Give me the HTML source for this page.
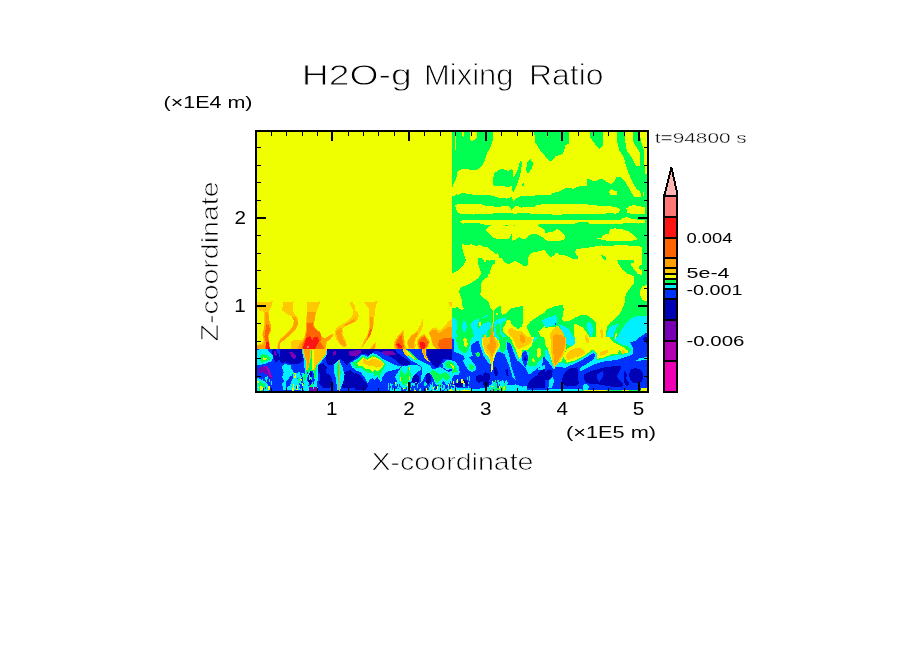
<!DOCTYPE html>
<html lang="en"><head><meta charset="utf-8"><title>H2O-g Mixing Ratio</title>
<style>
html,body{margin:0;padding:0;background:#fff;}
body{width:904px;height:654px;overflow:hidden;}
svg{display:block;will-change:transform;}
.thin{paint-order:fill stroke;stroke:#fff;stroke-width:0.85px;}
.thinb{paint-order:fill stroke;stroke:#fff;stroke-width:0.7px;}
.thin2{paint-order:fill stroke;stroke:#fff;stroke-width:0.35px;}
</style></head><body>
<svg width="904" height="654" viewBox="0 0 904 654">
<defs><clipPath id="pc"><rect x="256" y="131" width="392" height="261"/></clipPath></defs>
<rect width="904" height="654" fill="#fff"/>
<g clip-path="url(#pc)" shape-rendering="crispEdges">
<rect x="256" y="131" width="392" height="261" fill="#f0ff00"/>
<defs><clipPath id="t1"><rect x="452" y="131" width="93" height="71"/></clipPath><clipPath id="t2"><rect x="545" y="131" width="103" height="71"/></clipPath><clipPath id="t3"><rect x="452" y="202" width="93" height="72"/></clipPath><clipPath id="t4"><rect x="545" y="202" width="103" height="72"/></clipPath><clipPath id="t5"><rect x="452" y="274" width="93" height="63"/></clipPath><clipPath id="t6"><rect x="545" y="274" width="103" height="63"/></clipPath><clipPath id="t7"><rect x="452" y="337" width="93" height="55"/></clipPath><clipPath id="t8"><rect x="545" y="337" width="103" height="55"/></clipPath><clipPath id="t9"><rect x="256" y="292" width="99" height="57"/></clipPath><clipPath id="t10"><rect x="355" y="292" width="97" height="57.5"/></clipPath><clipPath id="t11"><rect x="256" y="349" width="99" height="43"/></clipPath><clipPath id="t12"><rect x="355" y="349" width="97" height="43"/></clipPath></defs>
<g clip-path="url(#t1)">
<polygon points="452.2,130.0 493.1,130.0 492.6,141.1 490.4,147.7 487.0,153.2 484.3,162.1 480.4,167.6 477.1,169.6 470.4,169.6 461.6,168.9 457.7,171.5 456.1,178.7 453.8,183.1 452.2,188.1" fill="#00ff50"/>
<polygon points="469.9,130.0 469.9,139.4 471.5,141.1 474.9,140.0 477.1,136.6 477.1,130.0" fill="#f0ff00"/>
<polygon points="461.6,130.0 462.1,136.1 463.8,136.6 464.0,130.0" fill="#f0ff00"/>
<rect x="455.2" y="135.5" width="0.7" height="14.9" fill="#f0ff00"/>
<polygon points="534.0,130.0 535.2,142.2 539.0,148.8 542.3,153.2 545.0,154.9 545.0,130.0" fill="#00ff50"/>
<polygon points="493.1,178.7 494.2,173.7 498.1,170.0 502.5,168.9 508.1,170.9 511.4,169.3 513.0,170.9 513.6,177.6 518.0,168.7 520.2,161.0 521.9,162.1 521.3,169.8 519.1,178.7 515.8,187.5 513.6,191.9 511.9,190.3 511.4,184.2 509.7,187.5 504.7,186.4 497.0,185.9 493.7,186.4 493.1,182.0" fill="#00ff50"/>
<polygon points="530.2,159.0 532.9,162.1 532.4,167.6 529.1,172.6 526.6,173.1 526.3,167.6 527.7,161.5" fill="#00ff50"/>
<polygon points="522.4,183.7 523.8,182.9 524.2,184.8 522.9,186.6 522.0,185.9" fill="#00ff50"/>
<polygon points="452.2,196.4 455.0,195.8 456.1,193.1 457.2,195.3 461.6,193.3 464.9,193.3 472.7,194.7 490.4,195.3 498.1,197.5 506.9,198.6 511.4,196.9 513.6,200.8 515.8,198.6 520.2,196.2 529.1,196.4 536.8,195.3 545.0,194.7 545.0,203.0 452.2,203.0" fill="#00ff50"/>
</g>
<g clip-path="url(#t2)">
<polygon points="545.0,130.0 546.1,130.0 547.4,137.7 548.9,130.0 568.8,130.0 568.8,143.8 565.5,144.9 564.4,149.9 562.7,153.8 558.3,155.4 555.5,156.5 552.2,160.4 549.4,161.0 545.0,156.0" fill="#00ff50"/>
<polygon points="589.8,130.0 603.1,130.0 603.1,145.5 599.2,149.0 597.0,146.6 593.7,142.2 590.4,137.7" fill="#00ff50"/>
<polygon points="545.0,203.0 545.0,195.3 550.5,194.7 552.7,193.1 559.4,191.4 566.0,188.1 573.8,188.6 580.4,185.9 586.5,186.4 587.0,179.2 589.2,179.2 592.6,180.9 595.9,181.1 599.2,179.2 602.5,179.2 606.9,182.0 611.4,184.0 614.1,182.0 616.9,176.5 620.2,176.7 624.6,180.9 628.0,186.4 631.3,193.1 634.6,196.9 640.7,196.9 640.4,190.8 636.8,189.7 632.4,182.0 629.1,174.2 625.8,165.4 623.5,156.5 619.1,149.9 617.5,143.3 616.9,130.0 640.1,130.0 640.7,141.1 643.5,148.8 644.3,163.2 645.0,174.2 649.0,174.2 649.0,203.0" fill="#00ff50"/>
<polygon points="625.2,130.0 625.2,141.1 626.9,151.0 631.3,156.5 635.7,165.4 640.1,166.0 639.6,152.1 636.8,147.7 633.5,142.2 632.9,130.0" fill="#f0ff00"/>
<polygon points="609.2,191.9 611.4,189.2 617.5,191.9 616.9,194.7 610.3,194.7" fill="#f0ff00"/>
<rect x="642.9" y="191.9" width="1.1" height="3.9" fill="#f0ff00"/>
</g>
<g clip-path="url(#t3)">
<rect x="452.2" y="201.4" width="93.5" height="73.6" fill="#00ff50"/>
<polygon points="455.0,205.3 457.2,204.4 481.5,204.4 485.9,205.9 494.8,206.6 509.2,206.4 511.4,209.7 514.7,206.4 519.1,206.4 521.3,207.8 525.8,206.6 529.1,207.5 533.5,207.3 536.8,204.8 545.0,204.2 545.0,213.9 530.2,213.6 529.1,213.1 513.6,213.6 511.4,213.1 476.0,213.9 473.8,214.7 471.5,213.9 463.8,214.4 458.3,213.1 456.1,209.7" fill="#f0ff00"/>
<polygon points="459.9,221.7 462.7,220.3 545.0,220.3 545.0,223.9 541.2,224.1 536.5,224.9 541.5,227.7 545.0,229.9 545.0,239.4 541.5,236.5 537.0,234.3 531.5,233.7 525.8,238.5 522.4,238.8 519.3,237.1 515.8,239.6 512.1,240.7 511.6,234.1 508.6,239.3 502.5,239.1 499.2,239.4 493.7,238.0 489.2,234.1 485.9,229.7 487.6,227.4 491.5,225.5 481.5,224.1 478.2,223.0 470.4,222.5 463.3,223.6" fill="#f0ff00"/>
<rect x="504.7" y="224.9" width="3.3" height="0.9" fill="#00ff50"/>
<rect x="513.6" y="224.9" width="1.3" height="0.9" fill="#00ff50"/>
<polygon points="462.1,244.0 464.4,244.6 468.2,245.7 471.0,244.0 473.8,245.4 477.1,245.7 480.4,245.1 483.2,246.8 487.0,247.1 491.5,250.7 496.4,254.5 498.1,252.9 499.2,258.4 501.4,257.9 504.7,262.3 508.1,264.5 514.7,261.2 518.0,262.3 523.5,265.6 527.4,266.2 528.0,258.4 530.2,254.0 533.5,252.3 540.1,251.2 543.5,250.1 545.0,250.7 545.0,275.0 489.2,275.0 492.0,265.1 494.8,263.9 494.8,260.1 489.2,260.6 485.9,260.1 485.4,262.8 482.1,258.4 478.2,258.2 478.2,263.9 480.4,270.6 481.0,275.0 452.2,275.0 452.2,272.8 455.0,272.2 459.4,269.5 463.8,265.1 466.0,260.1 464.9,257.3 462.7,250.7" fill="#f0ff00"/>
</g>
<g clip-path="url(#t4)">
<rect x="544.4" y="201.4" width="104.5" height="73.6" fill="#00ff50"/>
<polygon points="545.0,204.2 550.5,204.0 583.7,204.0 593.7,205.3 611.4,206.4 616.9,207.0 620.0,209.7 619.1,212.5 615.8,213.6 606.9,213.1 605.8,213.9 585.9,213.6 583.7,214.4 576.0,214.4 562.7,214.2 561.6,214.7 552.7,214.7 551.6,213.9 545.0,213.9" fill="#f0ff00"/>
<polygon points="626.3,208.6 629.1,206.2 633.5,205.1 640.1,206.4 645.0,207.5 645.0,213.9 637.9,214.2 631.3,213.9 627.4,212.5" fill="#f0ff00"/>
<polygon points="545.0,220.3 620.2,219.7 622.4,218.4 626.9,216.9 631.3,218.6 637.9,219.7 645.0,219.7 645.0,222.5 641.2,222.5 639.0,223.6 624.6,222.5 622.4,223.6 606.9,223.6 589.2,223.6 588.1,222.5 580.4,221.9 574.9,223.6 545.0,223.9" fill="#f0ff00"/>
<polygon points="545.0,232.6 551.6,232.4 557.2,229.1 560.5,231.0 564.9,235.7 565.5,238.5 562.7,240.2 555.0,241.3 550.5,241.3 545.0,239.9" fill="#f0ff00"/>
<polygon points="597.0,238.5 601.4,238.0 603.6,235.0 609.2,233.5 609.7,229.7 614.7,228.3 621.3,229.1 628.0,231.0 633.5,234.6 637.9,239.1 635.7,240.2 624.6,241.3 621.3,240.7 606.9,240.7 601.4,239.6" fill="#f0ff00"/>
<polygon points="545.0,250.7 547.2,253.4 550.5,256.8 553.8,256.2 556.1,252.3 559.4,254.5 567.1,256.0 572.7,259.0 577.1,259.5 578.7,257.9 576.5,255.1 575.1,252.3 576.5,249.0 590.4,247.4 597.0,246.0 601.4,245.4 606.9,246.0 615.8,245.4 622.4,245.1 631.3,245.7 637.9,246.2 641.8,246.8 642.3,259.5 616.9,260.1 618.6,263.9 622.4,269.5 629.1,275.0 545.0,275.0" fill="#f0ff00"/>
<polygon points="630.2,263.9 634.0,262.3 633.5,260.1 642.3,259.5 642.3,275.0 637.9,275.0 636.8,272.8 632.4,267.3" fill="#f0ff00"/>
<polygon points="600.9,255.1 602.5,254.9 606.9,257.9 605.3,260.1 602.5,258.4" fill="#00ff50"/>
<polygon points="638.5,267.3 641.2,263.9 642.3,268.4 640.7,270.6" fill="#00ff50"/>
</g>
<g clip-path="url(#t5)">
<polygon points="481.0,274.0 488.1,274.0 487.6,276.8 482.6,280.6 481.0,284.0 480.4,295.0 483.7,297.8 489.2,302.8 489.8,307.2 492.0,309.4 493.7,310.5 499.2,306.1 500.9,306.6 500.9,312.7 502.5,314.7 505.3,313.8 511.4,308.3 522.4,306.1 523.3,309.4 522.4,326.0 518.0,329.3 513.6,326.0 510.8,322.7 510.3,319.4 506.9,320.5 504.7,326.0 502.5,327.1 502.5,331.5 506.9,335.9 511.4,339.3 515.8,342.6 518.0,347.0 452.2,347.0 452.2,308.3 457.2,307.2 461.6,310.0 464.4,308.8 462.7,307.2 461.6,298.9 459.9,295.0 459.2,290.6 460.5,287.8 470.4,283.4 478.2,278.4" fill="#00ff50"/>
<polygon points="545.0,312.7 541.2,314.4 535.7,317.7 530.2,321.6 526.3,327.1 529.1,332.6 532.4,338.2 533.5,342.6 532.4,347.0 545.0,347.0" fill="#00ff50"/>
<polygon points="545.0,325.4 541.2,329.3 538.5,331.5 540.1,335.9 545.0,340.4" fill="#f0ff00"/>
<polygon points="452.2,318.2 455.5,318.8 457.2,321.6 456.6,329.3 456.1,333.7 459.4,339.3 461.6,347.0 452.2,347.0" fill="#00f0ff"/>
<ellipse cx="464.4" cy="326.5" rx="2.2" ry="5.5" transform="rotate(0 464.4 326.5)" fill="#00f0ff"/>
<polygon points="470.4,324.9 473.8,320.5 478.2,318.2 479.3,321.6 477.1,326.0 478.2,329.3 481.5,324.9 484.8,322.7 490.4,322.1 490.9,327.1 489.2,329.3 487.0,331.5 487.6,335.9 483.7,333.7 481.5,335.9 482.6,340.4 482.6,347.0 470.4,347.0 472.1,340.4 473.8,335.9 472.7,330.4" fill="#00f0ff"/>
<polygon points="494.2,322.7 497.0,319.9 501.4,318.2 505.8,318.2 506.4,321.0 502.5,321.6 500.9,326.0 501.4,331.5 506.9,337.1 511.4,341.5 512.5,347.0 498.1,347.0 497.0,340.4 494.2,335.9" fill="#00f0ff"/>
<polygon points="542.3,320.5 545.0,318.8 545.0,324.9 542.9,324.3" fill="#00f0ff"/>
<polygon points="536.8,337.6 539.0,337.1 542.9,342.6 542.3,345.3 539.0,341.5" fill="#00f0ff"/>
<polygon points="495.3,326.0 498.1,322.7 500.3,326.0 500.3,333.7 503.6,338.2 502.5,340.4 498.1,337.1 495.9,332.6" fill="#00ff50"/>
<polygon points="482.6,317.1 487.0,314.9 488.1,316.0 483.7,318.0" fill="#00f0ff"/>
<polygon points="452.2,339.8 453.8,340.4 454.4,347.0 452.2,347.0" fill="#0032ff"/>
<polygon points="471.0,347.0 472.1,343.1 478.2,339.8 479.8,347.0" fill="#0032ff"/>
<polygon points="506.9,342.0 510.3,342.6 511.4,347.0 506.9,347.0" fill="#0032ff"/>
<polygon points="463.3,347.0 463.8,339.3 465.5,337.6 467.1,340.4 468.2,347.0" fill="#f0ff00"/>
<polygon points="478.7,322.7 480.6,322.1 481.0,325.4 479.1,326.2" fill="#f0ff00"/>
<rect x="495.6" y="312.7" width="2.0" height="2.2" fill="#f0ff00"/>
<rect x="492.6" y="308.3" width="1.1" height="14.4" fill="#f0ff00"/>
<polygon points="483.2,347.0 483.7,335.9 485.4,334.3 487.0,340.4 490.4,341.5 490.9,329.3 492.0,322.7 493.1,322.7 493.7,335.9 495.9,339.3 499.2,347.0" fill="#ffc800"/>
<polygon points="489.8,347.0 490.4,335.9 491.5,327.1 493.1,327.1 493.7,340.4 495.9,347.0" fill="#ffa000"/>
<polygon points="508.1,329.3 511.4,327.7 515.8,330.4 522.4,331.5 526.9,335.9 530.2,340.4 526.9,344.8 522.4,347.0 515.8,347.0 514.7,340.4 510.3,335.9 508.1,332.6" fill="#ffc800"/>
<ellipse cx="522.4" cy="339.3" rx="2.2" ry="5.0" transform="rotate(-8 522.4 339.3)" fill="#ffa000"/>
</g>
<g clip-path="url(#t6)">
<polygon points="629.1,274.0 633.5,276.2 633.5,284.0 629.1,289.5 625.8,293.9 624.6,302.8 621.3,311.6 615.8,317.7 610.3,322.7 606.9,327.1 605.8,335.9 606.9,341.5 611.4,347.0 649.0,347.0 649.0,274.0 642.3,274.0 641.2,275.7 639.0,274.0" fill="#00ff50"/>
<polygon points="649.0,284.5 642.3,286.2 640.4,290.6 640.4,296.1 642.3,300.0 649.0,301.7" fill="#f0ff00"/>
<polygon points="545.0,311.6 548.3,308.8 555.0,306.1 562.7,305.0 563.8,309.4 562.7,316.0 562.1,319.4 564.4,321.6 570.4,320.5 574.9,317.7 580.4,315.2 587.0,315.5 592.6,318.8 595.9,322.7 596.1,335.9 595.3,342.6 592.6,343.7 590.4,339.3 589.2,335.9 585.9,331.5 582.6,327.1 578.2,324.9 574.9,323.2 574.0,326.0 574.3,335.9 575.4,342.6 574.9,347.0 545.0,347.0" fill="#00ff50"/>
<polygon points="621.3,330.4 624.6,324.9 631.3,318.2 636.8,316.0 649.0,316.6 649.0,347.0 622.4,347.0 616.9,344.8 615.8,340.4 618.0,335.9" fill="#00f0ff"/>
<polygon points="608.1,340.4 606.9,333.7 609.2,328.2 613.6,324.9 619.1,323.8 616.9,327.1 614.1,332.6 613.6,340.4 615.8,344.8 611.4,344.8" fill="#00f0ff"/>
<polygon points="614.5,334.3 616.7,333.2 616.3,339.3 614.7,340.4" fill="#f0ff00"/>
<polygon points="586.5,323.2 589.2,322.1 592.0,324.9 593.1,330.4 592.0,335.9 590.9,337.6 589.2,332.6 586.5,327.1" fill="#00f0ff"/>
<polygon points="545.0,318.2 551.6,316.6 556.1,314.4 557.2,320.5 556.1,324.3 551.6,326.0 545.0,327.1" fill="#00f0ff"/>
<polygon points="558.3,324.3 563.8,326.0 569.3,329.3 572.7,335.9 574.0,342.6 574.0,347.0 566.0,347.0 565.5,340.4 563.8,333.7 560.5,328.2" fill="#00f0ff"/>
<polygon points="629.1,343.1 636.8,340.4 641.2,335.9 649.0,331.5 649.0,347.0 631.3,347.0" fill="#0032ff"/>
<polygon points="642.3,340.4 649.0,337.1 649.0,345.3 643.5,343.7" fill="#0000b4"/>
<rect x="555.0" y="323.2" width="1.1" height="1.7" fill="#0032ff"/>
<polygon points="545.0,328.2 551.6,326.5 555.5,326.7 558.3,326.0 560.5,328.8 563.8,334.3 565.5,340.4 566.0,347.0 545.0,347.0" fill="#f0ff00"/>
<polygon points="556.1,326.5 560.5,328.8 563.8,334.3 565.5,340.4 566.0,347.0 550.5,347.0 550.0,333.7 552.7,329.9" fill="#ffc800"/>
<polygon points="553.3,335.9 556.1,334.3 561.6,334.8 564.4,339.3 565.5,347.0 552.2,347.0 552.2,340.4" fill="#ffa000"/>
<rect x="546.7" y="339.3" width="1.1" height="2.8" fill="#ffc800"/>
<polygon points="600.3,330.4 602.0,328.8 603.1,331.5 602.5,338.2 600.9,338.2" fill="#ffc800"/>
<polygon points="585.4,335.4 587.0,334.8 588.4,340.4 587.6,343.1 585.9,340.4" fill="#ffc800"/>
</g>
<g clip-path="url(#t7)">
<rect x="451.6" y="327.4" width="94.0" height="64.7" fill="#0032ff"/>
<polygon points="452.2,328.0 545.7,328.0 545.7,356.8 542.9,357.3 542.3,365.6 536.8,368.9 532.4,372.2 529.1,374.5 527.4,372.2 525.2,367.8 526.9,364.5 528.0,359.0 526.3,351.2 523.5,351.8 521.3,354.5 522.4,361.2 524.6,366.7 522.4,364.5 516.9,360.1 513.6,352.3 510.3,342.9 506.9,342.4 506.9,347.9 509.2,355.7 511.4,366.7 515.8,380.0 512.5,376.7 511.4,372.2 508.6,364.5 506.9,360.1 504.7,354.5 500.3,351.8 497.0,351.8 495.9,354.5 493.1,361.2 492.3,372.2 491.2,372.2 490.9,361.2 490.4,364.5 487.0,361.2 483.2,355.1 481.5,350.1 478.2,340.2 470.4,345.7 471.0,350.1 472.7,355.7 468.8,357.3 465.5,359.0 462.7,355.1 457.2,352.9 453.6,351.8 453.6,339.1 452.2,339.1" fill="#00f0ff"/>
<polygon points="542.9,365.6 545.7,365.1 545.7,372.2 541.2,370.0 536.8,369.2" fill="#00f0ff"/>
<polygon points="456.1,328.0 474.9,328.0 473.8,334.6 470.4,341.3 468.8,350.1 464.9,353.4 459.4,350.1 456.1,341.3 455.0,334.6" fill="#00ff50"/>
<polygon points="497.0,328.0 545.7,328.0 545.7,355.7 540.1,360.1 535.7,365.6 530.2,366.7 527.4,364.5 528.0,359.0 529.1,352.3 524.6,350.1 521.3,356.8 519.1,359.0 515.8,352.3 511.4,344.6 508.1,341.3 506.9,339.1 505.3,350.1 502.5,353.4 499.8,350.1 499.2,339.1" fill="#00ff50"/>
<polygon points="532.4,334.6 536.8,331.3 539.0,334.6 535.7,340.2 532.4,342.4" fill="#00f0ff"/>
<polygon points="463.3,339.1 464.9,337.4 467.1,339.1 467.7,344.6 466.0,347.9 463.8,344.6" fill="#f0ff00"/>
<polygon points="501.4,328.0 533.5,328.0 533.5,339.1 531.3,346.8 526.9,350.1 522.4,350.1 521.3,356.8 519.1,359.0 515.8,350.1 511.4,340.2 506.9,333.5 502.5,330.2" fill="#f0ff00"/>
<polygon points="537.9,328.0 545.7,328.0 545.7,340.2 541.2,334.6" fill="#f0ff00"/>
<polygon points="536.8,350.1 539.0,347.4 541.2,349.0 541.2,355.7 538.5,358.4 536.8,355.7" fill="#f0ff00"/>
<polygon points="531.3,360.1 533.5,358.4 535.7,362.3 533.5,362.3" fill="#f0ff00"/>
<polygon points="482.1,339.1 484.8,333.5 487.6,338.0 489.2,333.5 489.8,328.0 494.8,328.0 495.3,334.6 497.0,339.1 499.4,341.3 499.8,346.3 497.0,351.2 494.8,355.7 493.5,361.2 492.3,372.2 491.2,372.2 490.4,361.2 488.7,356.8 485.4,353.4 482.8,347.9 482.1,342.4" fill="#f0ff00"/>
<polygon points="483.2,338.0 484.8,334.6 487.6,339.1 489.8,334.6 490.4,328.0 494.2,328.0 494.8,334.6 495.9,339.1 498.1,341.3 498.7,345.7 495.9,350.1 493.7,354.5 492.6,360.1 491.5,365.6 490.4,360.1 489.2,355.7 485.9,352.3 483.7,346.8 483.2,341.3" fill="#ffc800"/>
<polygon points="490.6,328.0 493.9,328.0 494.2,339.1 496.4,344.6 495.3,349.0 493.1,353.4 492.0,357.9 490.9,353.4 488.7,350.1 486.5,347.9 487.6,344.6 490.4,342.4" fill="#ffa000"/>
<polygon points="508.1,328.0 529.1,328.0 530.2,334.6 532.4,340.2 529.1,344.6 522.4,347.9 518.0,349.0 515.8,345.7 513.6,340.2 510.3,334.6" fill="#ffc800"/>
<ellipse cx="522.4" cy="338.5" rx="2.4" ry="4.4" transform="rotate(-10 522.4 338.5)" fill="#ffa000"/>
<polygon points="522.4,353.4 524.6,351.2 527.4,353.4 528.0,359.0 526.3,363.4 523.5,363.4 521.9,359.0" fill="#0032ff"/>
<polygon points="523.5,357.9 525.8,356.8 526.9,359.5 525.2,361.2" fill="#0000b4"/>
<polygon points="453.8,384.4 459.4,381.1 466.0,380.0 468.8,382.2 468.2,385.5 461.6,387.2 456.1,386.6" fill="#0000b4"/>
<polygon points="476.0,376.7 478.2,375.0 482.6,375.6 484.8,372.2 489.2,373.4 490.4,376.7 489.2,385.5 483.7,385.5 482.6,381.1 478.2,383.3 476.5,381.1" fill="#0000b4"/>
<polygon points="493.7,366.7 497.0,367.8 498.1,374.5 495.9,376.7 493.7,372.2" fill="#0000b4"/>
<polygon points="505.3,370.0 508.1,368.9 508.6,375.6 506.9,376.7" fill="#0000b4"/>
<polygon points="527.4,385.5 530.2,380.0 536.8,375.6 541.2,370.0 545.7,368.9 545.7,388.3 527.4,388.3" fill="#0000b4"/>
<polygon points="451.6,361.2 455.0,361.2 458.3,365.6 459.9,372.2 458.3,375.6 455.0,374.5 452.7,376.7 452.2,381.1 451.6,387.7" fill="#00f0ff"/>
<polygon points="451.6,363.4 453.8,363.4 456.6,367.8 457.7,372.2 455.0,371.7 452.2,374.5" fill="#00ff50"/>
<polygon points="451.9,365.1 453.8,366.2 454.4,368.9 452.2,368.4" fill="#f0ff00"/>
<polygon points="462.7,360.1 465.5,359.0 468.8,357.3 471.5,360.1 475.4,365.6 476.0,370.0 472.1,372.2 468.2,370.0 465.5,365.6" fill="#00f0ff"/>
<polygon points="468.8,364.5 471.0,363.4 473.8,366.7 473.2,370.0 470.4,370.0 468.8,367.8" fill="#00ff50"/>
<polygon points="475.4,353.4 478.2,351.8 480.4,354.5 478.2,357.3 476.0,356.2" fill="#00ff50"/>
<polygon points="452.2,388.3 470.4,387.7 473.8,389.4 481.5,388.3 490.4,386.6 492.6,381.1 497.0,383.3 502.5,380.0 506.9,385.5 515.8,384.4 522.4,386.6 526.9,385.5 527.4,391.1 452.2,391.1" fill="#00f0ff"/>
<polygon points="491.5,387.7 494.8,383.3 500.3,386.6 504.7,383.3 506.4,388.3 504.7,391.1 491.5,391.1" fill="#00ff50"/>
<polygon points="452.2,389.9 458.3,389.5 470.4,390.2 470.4,391.1 452.2,391.1" fill="#f0ff00"/>
<polygon points="502.5,386.6 505.3,385.5 505.3,391.1 502.5,391.1" fill="#f0ff00"/>
<polygon points="490.1,388.3 493.7,387.7 494.2,391.1 489.8,391.1" fill="#7800b4"/>
<polygon points="527.4,389.9 545.7,389.5 545.7,391.1 527.4,391.1" fill="#00f0ff"/>
</g>
<g clip-path="url(#t8)">
<rect x="544.4" y="327.4" width="104.5" height="64.7" fill="#0032ff"/>
<polygon points="545.0,328.0 649.0,328.0 645.0,330.2 641.2,334.6 636.8,340.2 630.2,342.4 633.5,349.0 632.4,354.5 624.6,357.3 615.8,360.1 604.7,361.2 593.7,364.5 587.0,367.8 581.5,371.1 579.8,370.6 580.4,367.8 583.7,365.6 589.2,362.3 593.7,359.0 595.3,354.5 593.7,352.9 589.2,355.7 581.5,360.1 572.7,364.5 564.9,367.8 556.1,366.7 553.8,369.5 549.4,363.4 545.0,359.0" fill="#00f0ff"/>
<polygon points="545.0,328.0 562.7,328.0 564.9,334.6 566.0,343.5 571.5,346.3 575.4,343.5 574.9,334.6 574.3,328.0 615.8,328.0 612.5,334.6 614.7,340.2 618.0,342.4 622.4,344.6 626.9,345.7 631.3,349.6 629.1,352.9 620.2,355.1 611.4,355.7 602.5,359.0 597.0,360.1 597.0,354.5 593.7,350.7 591.5,351.8 583.7,357.3 576.0,361.2 567.1,364.0 561.6,362.3 556.1,363.4 553.8,365.6 548.3,356.8 545.0,349.6" fill="#00ff50"/>
<polygon points="545.0,350.1 547.8,349.6 550.5,353.4 551.6,360.1 549.4,363.4 545.0,359.0" fill="#00f0ff"/>
<polygon points="545.0,328.0 562.7,328.0 564.7,334.6 565.8,341.3 566.2,347.9 564.7,355.1 562.1,360.1 556.6,365.1 554.1,367.3 551.6,360.6 549.4,354.0 547.2,347.4 545.0,344.6" fill="#f0ff00"/>
<polygon points="574.3,328.0 575.4,343.5 571.5,346.3 567.1,348.5 564.9,353.4 563.8,357.9 567.1,362.8 576.0,360.1 583.7,356.2 589.2,352.3 592.6,349.6 595.9,351.8 597.5,355.7 597.0,359.0 602.5,357.9 611.4,354.5 618.0,354.0 619.1,350.1 626.9,353.4 628.5,351.2 624.6,347.9 620.2,345.7 615.8,343.5 611.4,340.2 608.1,334.6 607.5,328.0" fill="#f0ff00"/>
<polygon points="589.8,328.0 593.7,328.0 593.1,334.6 592.0,338.5 590.9,334.6" fill="#00ff50"/>
<polygon points="614.1,334.6 616.3,333.0 616.9,336.8 615.2,339.6" fill="#f0ff00"/>
<polygon points="550.5,328.0 559.4,328.0 564.4,332.4 566.2,339.1 566.0,347.9 563.8,354.5 560.5,360.1 556.1,365.6 554.4,367.8 552.7,363.4 551.6,355.7 551.1,344.6 550.0,334.6" fill="#ffc800"/>
<polygon points="553.3,334.6 559.4,333.5 564.4,336.8 565.5,342.4 563.8,350.1 560.5,356.8 557.2,362.3 555.0,365.6 553.8,360.1 553.3,350.1 552.7,341.3" fill="#ffa000"/>
<polygon points="566.0,355.7 568.2,351.8 572.7,349.0 579.3,347.4 583.7,349.6 585.4,352.9 581.5,355.7 576.0,357.3 570.4,359.5 567.1,360.1" fill="#ffc800"/>
<polygon points="584.8,335.7 587.0,334.6 588.7,339.1 589.2,342.9 587.0,343.5 585.4,340.2" fill="#ffc800"/>
<polygon points="599.8,331.3 602.0,329.1 603.6,332.4 603.1,338.0 600.9,338.5" fill="#ffc800"/>
<polygon points="599.8,352.3 603.6,350.7 608.1,350.1 607.5,352.9 603.6,355.1 600.3,356.2" fill="#ffc800"/>
<polygon points="620.8,350.7 623.5,350.1 625.2,352.3 623.0,354.0 621.3,352.9" fill="#ffc800"/>
<polygon points="636.3,360.6 640.1,357.9 649.0,357.0 649.0,359.5 640.1,360.6" fill="#00f0ff"/>
<polygon points="545.0,372.2 549.4,368.9 552.7,371.1 551.6,376.7 548.3,380.0 545.0,380.0" fill="#0000b4"/>
<polygon points="564.9,372.2 568.2,368.9 577.1,367.3 578.2,372.2 577.6,377.8 579.3,383.3 577.1,385.5 567.1,386.6 561.6,383.3 562.7,376.7" fill="#0000b4"/>
<polygon points="583.7,374.5 589.2,371.7 597.0,369.5 604.7,367.3 613.6,366.2 621.3,365.6 620.2,370.0 616.9,376.7 621.3,382.2 623.5,383.3 622.4,386.6 611.4,386.6 604.7,385.5 598.1,384.4 591.5,384.4 584.8,382.2" fill="#0000b4"/>
<polygon points="597.5,374.5 602.5,371.1 603.6,374.5 601.4,378.9 599.2,382.2 597.2,378.9" fill="#0032ff"/>
<polygon points="624.6,370.0 626.9,374.5 626.3,378.9 629.1,383.3 628.0,386.6 624.6,384.4 624.1,376.7" fill="#0000b4"/>
<polygon points="630.2,370.0 635.7,367.8 641.2,370.0 643.5,374.5 642.3,381.1 639.0,383.3 633.5,383.3 630.2,380.0 629.1,374.5" fill="#0000b4"/>
<polygon points="642.3,339.1 649.0,332.4 649.0,344.6" fill="#0000b4"/>
<polygon points="545.0,389.7 562.7,388.8 581.5,389.3 581.5,391.1 545.0,391.1" fill="#00f0ff"/>
<polygon points="581.5,389.5 649.0,389.5 649.0,391.1 581.5,391.1" fill="#00ff50"/>
<polygon points="583.7,390.2 606.9,390.2 606.9,391.1 583.7,391.1" fill="#f0ff00"/>
<polygon points="622.4,389.9 629.1,389.7 629.1,391.1 622.4,391.1" fill="#f0ff00"/>
<polygon points="641.2,388.3 649.0,387.7 649.0,391.1 641.2,391.1" fill="#f0ff00"/>
<polygon points="582.6,385.5 585.9,383.3 589.2,386.6 588.1,389.5 582.6,389.5" fill="#00f0ff"/>
<polygon points="549.4,380.0 552.7,376.7 554.4,381.1 551.6,387.7 548.3,388.3" fill="#00f0ff"/>
</g>
<g clip-path="url(#t9)">
<polygon points="257.2,302.5 272.7,301.4 271.6,305.3 269.4,310.8 268.3,317.4 270.5,324.1 270.5,330.7 268.8,336.2 269.4,341.8 270.5,349.5 255.0,349.5 255.0,345.1 261.6,344.0 263.3,339.6 262.2,334.0 263.8,327.4 264.4,319.7 263.8,311.9 260.5,310.8 257.2,308.6" fill="#ffc800"/>
<polygon points="265.0,311.9 268.3,312.5 268.8,318.5 271.0,325.2 270.5,331.8 268.3,336.2 269.4,342.9 270.5,349.5 255.0,349.5 255.0,345.7 262.7,345.1 264.4,340.7 262.7,335.1 264.4,327.4 265.0,319.7" fill="#ffa000"/>
<polygon points="265.5,324.1 268.8,325.2 269.9,329.6 267.7,336.2 268.8,341.8 269.9,349.5 265.0,349.5 266.1,342.9 264.4,336.2 265.5,329.6" fill="#ff6400"/>
<polygon points="266.6,341.8 268.8,342.3 269.9,349.5 265.5,349.5" fill="#ff1414"/>
<polygon points="283.2,302.5 293.7,301.4 292.6,306.4 293.7,313.0 297.6,317.4 298.1,324.1 295.9,329.6 290.4,335.1 284.9,339.6 280.4,342.9 279.9,349.5 277.1,349.5 277.7,342.9 280.4,338.5 287.1,332.9 292.6,326.3 293.7,320.8 291.5,316.3 286.0,313.6 282.1,310.3" fill="#ffc800"/>
<polygon points="291.5,316.3 295.4,316.9 297.6,320.8 297.6,325.2 295.4,329.6 290.4,334.6 284.9,339.6 280.4,342.9 279.9,349.5 277.7,349.5 278.2,342.9 281.5,338.5 288.2,332.4 293.2,326.3 294.3,321.3" fill="#ffa000"/>
<polygon points="307.0,302.5 320.3,301.4 318.6,306.4 316.4,311.9 314.7,319.7 313.6,325.2 316.9,329.6 320.3,331.8 321.4,336.2 325.8,338.5 331.3,334.0 334.1,334.6 331.3,338.5 326.9,341.8 325.8,349.5 291.5,349.5 291.0,341.8 293.7,340.1 301.5,339.6 304.8,336.2 305.9,328.5 306.4,317.4 307.0,309.7" fill="#ffc800"/>
<polygon points="307.0,311.9 315.8,311.9 314.7,319.7 313.6,325.2 316.9,329.6 320.3,331.8 321.4,336.2 324.7,338.5 331.3,334.6 333.5,335.1 330.2,339.0 326.3,342.3 325.2,349.5 298.1,349.5 298.7,344.0 302.6,341.8 305.3,336.2 306.1,328.5 306.7,318.5" fill="#ffa000"/>
<polygon points="307.5,323.0 312.5,322.4 313.6,327.4 316.9,330.7 320.3,332.9 321.4,337.4 320.3,341.8 322.5,345.1 324.7,349.5 301.5,349.5 302.6,344.0 305.3,338.5 307.0,330.7" fill="#ff6400"/>
<polygon points="307.0,337.4 310.3,336.2 312.0,340.7 313.6,337.4 318.1,337.4 319.2,340.7 316.9,345.1 314.7,349.5 302.6,349.5 303.7,345.1 305.3,340.7" fill="#ff1414"/>
<rect x="307.4" y="346.2" width="1.8" height="2.2" fill="#ff7878"/>
<polygon points="349.6,302.5 352.3,302.0 355.7,306.4 355.7,321.9 350.1,324.1 345.7,326.3 342.4,329.6 343.5,336.2 346.3,341.8 346.8,346.2 343.5,347.3 339.1,344.0 335.8,338.5 334.6,331.8 336.9,327.4 342.4,324.1 347.9,320.8 352.3,316.3 353.5,310.8 351.2,306.4" fill="#ffc800"/>
<polygon points="338.0,329.6 342.4,327.4 341.3,332.9 343.5,339.6 346.3,344.0 344.6,346.8 340.7,344.0 336.9,337.4 335.8,331.8" fill="#ffa000"/>
<polygon points="343.5,325.2 349.0,321.9 355.7,318.0 355.7,321.3 350.1,324.1 344.6,326.3" fill="#ffa000"/>
</g>
<g clip-path="url(#t10)">
<polygon points="363.8,302.0 377.7,301.4 376.0,305.3 374.9,310.8 374.4,317.4 373.3,326.3 370.5,335.1 366.1,341.8 362.2,347.9 361.1,347.3 363.8,340.7 367.7,334.0 369.4,326.3 369.4,317.4 368.8,308.6 366.1,305.3" fill="#ffc800"/>
<polygon points="369.9,317.4 373.3,316.9 373.3,326.3 370.5,335.1 366.1,341.8 363.3,346.2 365.0,340.7 368.3,334.0 369.9,326.3" fill="#ffa000"/>
<polygon points="370.5,328.5 372.1,328.5 370.5,334.6 367.2,339.6 368.3,335.1" fill="#ff6400"/>
<polygon points="369.4,349.0 371.6,346.2 375.5,341.8 376.0,346.2 374.4,349.5" fill="#ffc800"/>
<polygon points="371.0,349.0 372.7,346.2 374.9,344.0 375.1,346.8 373.8,349.5" fill="#ffa000"/>
<polygon points="354.4,310.3 357.2,311.4 358.9,315.8 357.8,320.2 354.4,322.4" fill="#ffc800"/>
<rect x="354.4" y="316.9" width="1.7" height="2.2" fill="#ffa000"/>
<polygon points="393.5,345.7 394.8,340.1 399.0,334.3 403.5,330.2 404.3,338.5 405.0,344.0 406.8,349.5 395.4,349.5" fill="#ffc800"/>
<polygon points="394.3,345.1 395.4,340.7 399.2,335.1 403.1,331.3 403.7,338.5 404.2,344.0 405.9,349.5 395.9,349.5" fill="#ffa000"/>
<polygon points="395.4,344.0 397.6,339.6 401.5,335.1 402.6,340.7 403.7,346.2 403.1,349.5 398.1,349.5 396.5,346.8" fill="#ff6400"/>
<polygon points="396.5,344.5 398.7,343.4 401.5,345.7 402.0,347.9 398.7,347.9" fill="#ff1414"/>
<polygon points="407.0,341.8 410.3,336.2 416.9,330.7 420.3,325.2 422.5,319.1 423.6,320.8 422.5,327.4 420.3,332.9 416.9,337.4 415.3,341.8 415.8,346.2 414.7,349.5 408.1,349.5" fill="#ffc800"/>
<polygon points="407.5,341.8 410.9,336.8 416.9,331.8 418.6,334.0 415.3,338.5 413.6,342.9 414.2,348.4 409.2,348.4" fill="#ffa000"/>
<polygon points="417.2,339.6 421.2,335.4 424.4,333.6 427.6,337.9 430.0,341.2 428.9,346.2 426.7,349.5 418.6,349.5 416.7,344.0" fill="#ffc800"/>
<polygon points="418.1,339.6 421.4,336.2 424.1,334.6 426.9,338.5 429.1,341.2 428.0,345.7 425.8,349.5 419.7,349.5 417.5,344.0" fill="#ffa000"/>
<polygon points="418.6,340.7 421.9,337.4 424.7,336.2 426.9,339.6 428.6,342.3 426.9,346.2 424.7,349.5 420.3,349.5 418.3,344.5" fill="#ff6400"/>
<polygon points="420.3,341.8 423.6,342.3 425.8,345.1 424.1,349.0 421.4,349.0 419.7,345.1" fill="#ff1414"/>
<polygon points="428.6,332.4 432.4,328.5 435.8,327.4 439.1,330.7 443.5,327.4 447.9,321.9 452.1,318.5 452.1,350.6 436.9,349.5 432.4,345.1 431.3,339.6" fill="#ffc800"/>
<polygon points="429.1,332.9 433.0,329.6 436.3,330.2 439.1,333.5 443.5,330.2 447.4,327.4 452.1,327.4 452.1,350.6 436.9,349.0 433.0,345.1 431.9,339.6" fill="#ffa000"/>
<polygon points="439.1,340.7 443.5,338.5 452.1,337.4 452.1,350.6 440.2,349.5 438.0,345.1" fill="#ff6400"/>
<polygon points="447.9,302.5 451.2,301.4 452.1,302.5 452.1,307.5 450.7,306.4" fill="#ffc800"/>
</g>
<g clip-path="url(#t11)">
<rect x="254.4" y="347.9" width="101.2" height="44.2" fill="#0032ff"/>
<polygon points="280.4,347.9 301.5,347.9 303.7,355.7 302.6,361.2 299.2,363.4 292.6,364.5 284.9,362.3 281.0,363.4 279.3,359.0 279.9,353.4" fill="#0000b4"/>
<polygon points="289.3,352.3 292.6,351.8 296.5,355.7 294.8,359.5 292.1,357.9" fill="#7800b4"/>
<polygon points="271.6,350.1 274.9,348.5 278.8,354.5 278.8,360.1 276.0,362.3 273.8,359.0 272.7,354.5" fill="#0000b4"/>
<polygon points="273.3,351.8 275.5,351.2 277.1,355.1 274.9,355.7" fill="#7800b4"/>
<polygon points="326.9,347.9 355.7,347.9 355.7,359.0 350.1,361.2 346.8,365.6 343.5,361.2 340.2,359.0 336.9,361.2 332.4,365.6 328.0,364.5 325.8,361.2 325.2,354.5" fill="#0000b4"/>
<polygon points="332.4,351.8 335.8,351.2 336.3,355.1 333.0,355.7" fill="#7800b4"/>
<polygon points="349.0,351.2 355.7,350.7 355.7,355.7 349.6,355.7" fill="#7800b4"/>
<polygon points="320.3,374.5 316.9,370.0 316.9,364.5 323.6,363.4 326.9,367.8 325.8,372.2 331.3,376.7 332.4,383.3 330.2,387.7 323.6,388.3 319.2,383.3" fill="#0000b4"/>
<polygon points="343.5,372.2 350.1,370.0 355.7,374.5 355.7,388.3 342.4,388.3 341.3,380.0" fill="#0000b4"/>
<polygon points="308.1,372.2 311.4,370.0 312.0,380.0 310.3,385.5 308.1,381.1" fill="#0000b4"/>
<polygon points="258.3,368.9 261.6,366.7 267.2,365.6 270.5,372.2 272.7,377.8 270.5,378.9 267.2,374.5 262.7,372.2 259.4,373.4" fill="#7800b4"/>
<polygon points="266.1,366.7 268.8,367.8 271.6,376.7 269.9,376.7" fill="#b400b4"/>
<polygon points="281.5,366.7 284.9,364.0 290.4,365.1 291.5,368.9 293.7,372.2 291.5,375.6 287.1,380.0 284.3,381.1 282.1,377.8 283.8,372.2" fill="#00f0ff"/>
<polygon points="284.3,381.1 288.2,376.7 292.6,374.5 299.2,372.2 303.7,373.4 307.0,376.7 307.0,389.9 283.2,390.5 282.1,383.3" fill="#00f0ff"/>
<polygon points="286.5,381.1 291.0,375.6 293.2,377.2 289.8,385.5 286.0,388.3" fill="#0032ff"/>
<polygon points="299.2,380.0 302.6,376.7 303.7,383.3 301.5,389.9 298.7,387.7" fill="#0032ff"/>
<polygon points="303.7,375.6 305.9,373.4 306.4,377.8 303.7,383.3 302.6,380.0" fill="#00ff50"/>
<polygon points="257.0,349.6 267.2,349.0 269.4,352.3 273.8,356.8 271.6,361.2 266.1,363.4 261.6,364.5 257.0,365.6" fill="#00f0ff"/>
<polygon points="261.6,353.4 268.3,355.7 271.6,359.0 266.1,361.2 261.6,363.4 259.4,359.0" fill="#00ff50"/>
<polygon points="262.7,357.3 267.2,357.9 266.1,360.1 262.7,360.6" fill="#f0ff00"/>
<polygon points="257.0,377.8 262.7,380.0 267.2,383.3 269.4,391.1 257.0,391.1" fill="#00f0ff"/>
<polygon points="258.3,383.3 261.6,382.2 265.0,386.6 265.5,391.1 259.4,391.1" fill="#00ff50"/>
<polygon points="260.0,386.6 262.2,385.5 263.3,389.9 260.5,390.5" fill="#f0ff00"/>
<polygon points="333.5,365.6 336.9,361.2 339.1,360.1 342.4,366.7 344.6,374.5 343.5,381.1 340.2,389.9 336.9,389.9 336.3,380.0 334.1,372.2" fill="#00f0ff"/>
<polygon points="336.9,364.5 338.8,363.4 340.7,372.2 339.6,381.1 337.7,380.0" fill="#00ff50"/>
<rect x="338.8" y="359.5" width="0.9" height="31.5" fill="#ffa000"/>
<polygon points="350.1,363.4 355.7,359.5 355.7,369.5 352.3,367.8" fill="#00f0ff"/>
<polygon points="352.3,362.3 355.7,361.2 355.7,366.7 353.5,366.2" fill="#00ff50"/>
<polygon points="302.0,348.5 327.5,348.5 326.7,355.1 322.3,360.6 318.1,365.6 317.5,372.2 317.8,380.0 315.6,384.4 313.8,376.7 313.4,371.1 310.3,371.1 307.9,376.7 305.3,376.7 304.6,370.0 304.2,361.2 302.6,354.5" fill="#00f0ff"/>
<polygon points="302.6,348.5 326.9,348.5 326.0,354.8 321.6,360.3 317.2,364.7 316.1,372.2 315.6,377.8 314.5,377.8 314.2,370.6 309.8,370.6 307.4,374.5 306.1,374.5 305.7,361.2 303.7,354.5" fill="#00ff50"/>
<polygon points="303.7,381.1 307.0,380.0 308.1,386.6 316.9,383.3 318.1,391.1 303.7,391.1" fill="#00f0ff"/>
<polygon points="310.3,385.5 312.5,382.2 314.2,385.5 313.6,389.9 310.9,389.9" fill="#00ff50"/>
<polygon points="302.6,348.5 326.9,348.5 325.8,354.5 321.4,360.1 316.9,364.5 314.7,370.0 312.5,370.0 312.0,361.2 310.3,359.0 309.2,364.5 308.1,370.0 306.4,370.0 305.9,361.2 303.7,354.5" fill="#ffc800"/>
<polygon points="303.7,348.5 310.3,348.5 309.8,356.8 308.7,364.5 307.5,368.9 306.8,361.2 304.8,354.5" fill="#ffa000"/>
<rect x="312.0" y="350.1" width="1.7" height="18.8" fill="#f0ff00"/>
<rect x="310.9" y="350.1" width="1.1" height="19.9" fill="#00ff50"/>
<polygon points="308.1,387.2 316.9,386.6 317.5,391.1 307.5,391.1" fill="#7800b4"/>
<polygon points="292.6,385.5 293.7,383.3 294.3,391.1 292.4,391.1" fill="#f0ff00"/>
<polygon points="296.5,385.5 298.1,385.0 297.6,389.9 296.2,389.9" fill="#f0ff00"/>
</g>
<g clip-path="url(#t12)">
<rect x="354.4" y="347.9" width="101.2" height="44.2" fill="#0032ff"/>
<polygon points="354.4,347.9 393.7,347.9 397.0,352.3 402.6,356.8 409.2,361.2 410.3,364.5 403.7,365.6 399.2,363.4 395.9,360.1 390.4,356.8 386.0,355.1 380.4,351.8 374.9,350.7 371.6,354.0 368.3,355.7 365.0,353.4 360.5,354.5 354.4,359.0" fill="#0000b4"/>
<polygon points="354.4,349.6 360.5,349.6 361.6,352.3 358.3,355.7 354.4,357.3" fill="#7800b4"/>
<polygon points="379.9,351.8 391.5,350.7 397.0,355.1 386.0,355.7" fill="#7800b4"/>
<polygon points="354.4,372.2 359.4,374.5 363.8,380.0 368.3,385.5 366.1,389.9 354.4,389.9" fill="#0000b4"/>
<polygon points="426.9,348.5 452.1,349.0 455.7,353.4 455.7,360.1 449.0,359.5 443.5,359.0 441.3,363.4 436.9,367.8 432.4,364.5 429.1,359.0 426.9,354.5" fill="#0000b4"/>
<polygon points="413.6,375.6 416.9,373.4 419.2,377.8 418.1,384.4 413.6,385.5 411.4,381.1" fill="#0000b4"/>
<polygon points="425.8,374.5 429.1,372.2 431.3,377.8 430.2,383.3 425.8,384.4" fill="#0000b4"/>
<polygon points="354.4,361.2 358.3,357.9 362.7,354.5 367.2,356.8 372.7,352.9 377.1,354.5 382.7,359.0 389.3,362.3 397.0,365.6 401.5,366.2 398.1,368.9 391.5,370.6 386.0,372.2 382.7,376.7 381.0,383.3 379.3,380.0 377.1,376.7 374.9,380.0 372.7,377.8 369.4,380.0 367.7,383.3 365.0,377.8 360.5,372.2 354.4,370.0" fill="#00f0ff"/>
<polygon points="354.4,362.3 359.4,359.0 363.3,355.7 367.2,358.4 372.7,354.5 377.1,356.2 382.7,360.6 386.0,364.5 383.8,368.9 380.4,374.5 379.3,378.9 377.1,374.5 374.9,376.7 372.7,372.2 368.3,373.4 365.0,371.1 361.6,367.8 354.4,367.8" fill="#00ff50"/>
<polygon points="357.2,363.4 360.5,360.1 363.8,357.0 367.2,360.1 372.7,356.2 377.1,357.9 382.1,361.2 384.3,364.5 381.5,367.8 378.2,371.1 374.9,370.0 372.7,371.7 369.4,368.9 365.0,368.9 361.6,365.6 358.3,366.2" fill="#f0ff00"/>
<polygon points="362.7,360.1 364.4,357.9 367.2,361.2 372.7,358.4 376.0,359.0 380.4,361.2 383.2,364.0 380.4,366.7 376.0,367.8 372.7,365.6 369.4,366.2 366.1,364.5 363.8,363.4" fill="#ffc800"/>
<polygon points="394.8,376.7 397.0,373.4 401.5,366.7 403.7,366.2 410.3,365.1 416.9,364.5 420.3,366.7 421.4,370.0 416.9,372.2 413.6,375.6 411.4,381.1 408.1,385.5 403.7,389.9 400.4,385.5 397.0,381.1" fill="#00f0ff"/>
<polygon points="399.2,376.7 401.5,366.7 402.6,372.2 405.9,374.5 408.7,366.2 410.3,372.2 411.4,376.7 409.2,380.0 407.0,383.3 403.7,386.6 401.5,382.2" fill="#00ff50"/>
<rect x="408.7" y="366.7" width="1.1" height="3.3" fill="#f0ff00"/>
<rect x="399.5" y="376.7" width="1.3" height="4.4" fill="#f0ff00"/>
<rect x="408.7" y="375.6" width="1.1" height="4.4" fill="#f0ff00"/>
<polygon points="407.0,353.4 412.5,355.7 419.2,360.1 425.8,363.4 430.2,365.6 432.4,368.9 436.9,368.4 440.2,366.7 444.6,370.0 449.0,372.2 452.3,370.0 455.7,372.2 455.7,380.0 450.1,381.1 446.8,385.5 443.5,381.1 439.1,383.3 436.9,385.5 434.6,382.2 432.4,376.7 429.1,372.2 425.8,374.5 422.5,381.1 420.3,383.3 421.4,375.6 422.5,371.1 421.4,366.7 416.9,363.4 410.3,360.1 407.0,356.8" fill="#00f0ff"/>
<polygon points="430.2,372.2 432.4,369.5 436.9,372.2 440.2,374.5 444.6,372.2 449.0,374.5 450.1,377.8 446.8,381.1 443.5,377.8 440.2,380.0 436.9,383.3 434.6,380.0 432.4,376.7" fill="#00ff50"/>
<polygon points="442.4,363.4 446.8,360.1 452.3,360.1 455.7,361.2 455.7,372.2 451.2,368.9 446.8,370.0 443.5,367.8" fill="#00f0ff"/>
<polygon points="444.6,363.4 449.0,361.2 455.7,363.4 455.7,370.0 450.1,367.8 446.8,367.8" fill="#00ff50"/>
<polygon points="449.0,363.4 452.3,364.5 455.7,367.8 452.3,367.3" fill="#f0ff00"/>
<polygon points="405.3,349.6 407.5,349.6 418.1,359.5 415.3,360.1 404.8,353.4" fill="#00ff50"/>
<polygon points="405.9,350.1 407.0,350.1 416.9,360.1 415.6,360.1 405.3,352.9" fill="#f0ff00"/>
<polygon points="402.6,347.9 405.9,347.9 407.0,353.4 408.1,355.7 405.9,355.7 403.7,352.9" fill="#ffc800"/>
<polygon points="421.4,347.9 425.8,347.9 425.8,354.5 428.0,359.0 430.2,362.3 428.0,361.2 424.7,357.9 422.5,353.4" fill="#ffc800"/>
<polygon points="422.3,347.9 425.2,347.9 425.2,354.5 427.5,359.0 425.8,357.9 423.4,353.4" fill="#ffa000"/>
</g>
<g clip-path="url(#t12)"><rect x="429" y="387" width="1" height="2" fill="#00f0ff"/><rect x="400" y="390" width="1" height="1" fill="#00ff50"/><rect x="415" y="382" width="2" height="1" fill="#00f0ff"/><rect x="396" y="382" width="2" height="2" fill="#00f0ff"/><rect x="403" y="390" width="1" height="1" fill="#0032ff"/><rect x="438" y="384" width="1" height="1" fill="#00ff50"/><rect x="405" y="387" width="1" height="2" fill="#00ff50"/><rect x="403" y="385" width="1" height="4" fill="#00f0ff"/><rect x="412" y="382" width="1" height="2" fill="#0032ff"/><rect x="395" y="384" width="2" height="4" fill="#00ff50"/><rect x="442" y="388" width="2" height="2" fill="#00f0ff"/><rect x="426" y="383" width="1" height="2" fill="#00f0ff"/><rect x="426" y="388" width="1" height="3" fill="#f0ff00"/><rect x="424" y="382" width="1" height="4" fill="#00ff50"/><rect x="441" y="386" width="1" height="2" fill="#f0ff00"/><rect x="441" y="382" width="1" height="1" fill="#00f0ff"/><rect x="432" y="388" width="2" height="3" fill="#00f0ff"/><rect x="399" y="388" width="1" height="2" fill="#00f0ff"/><rect x="427" y="390" width="2" height="1" fill="#00f0ff"/><rect x="437" y="386" width="1" height="5" fill="#f0ff00"/><rect x="433" y="390" width="1" height="1" fill="#f0ff00"/><rect x="395" y="385" width="1" height="2" fill="#00f0ff"/><rect x="438" y="388" width="1" height="3" fill="#00f0ff"/><rect x="445" y="389" width="1" height="2" fill="#00f0ff"/><rect x="443" y="385" width="2" height="4" fill="#00f0ff"/><rect x="436" y="383" width="1" height="2" fill="#00f0ff"/><rect x="407" y="384" width="1" height="2" fill="#f0ff00"/><rect x="411" y="385" width="1" height="2" fill="#00f0ff"/><rect x="441" y="386" width="1" height="4" fill="#00f0ff"/><rect x="394" y="389" width="2" height="2" fill="#00f0ff"/><rect x="439" y="382" width="2" height="3" fill="#00f0ff"/><rect x="395" y="382" width="1" height="2" fill="#f0ff00"/><rect x="408" y="386" width="1" height="1" fill="#00f0ff"/><rect x="388" y="383" width="1" height="4" fill="#00f0ff"/><rect x="391" y="384" width="2" height="1" fill="#00f0ff"/><rect x="420" y="390" width="1" height="1" fill="#f0ff00"/><rect x="403" y="388" width="2" height="1" fill="#f0ff00"/><rect x="449" y="382" width="1" height="2" fill="#00f0ff"/><rect x="431" y="385" width="2" height="5" fill="#00f0ff"/><rect x="390" y="389" width="1" height="2" fill="#00f0ff"/><rect x="391" y="385" width="1" height="4" fill="#00f0ff"/><rect x="434" y="386" width="1" height="2" fill="#00ff50"/><rect x="430" y="384" width="1" height="5" fill="#00f0ff"/><rect x="439" y="384" width="1" height="5" fill="#00ff50"/><rect x="451" y="381" width="1" height="2" fill="#00f0ff"/><rect x="448" y="384" width="1" height="2" fill="#f0ff00"/><rect x="432" y="382" width="1" height="2" fill="#00f0ff"/><rect x="417" y="384" width="1" height="3" fill="#00f0ff"/><rect x="449" y="390" width="1" height="1" fill="#f0ff00"/><rect x="432" y="382" width="1" height="5" fill="#00f0ff"/><rect x="413" y="383" width="2" height="3" fill="#00f0ff"/><rect x="399" y="387" width="2" height="4" fill="#00f0ff"/><rect x="398" y="383" width="1" height="5" fill="#00f0ff"/><rect x="391" y="390" width="2" height="1" fill="#00f0ff"/><rect x="448" y="386" width="1" height="5" fill="#00ff50"/><rect x="404" y="381" width="1" height="1" fill="#00ff50"/><rect x="405" y="384" width="1" height="3" fill="#00f0ff"/><rect x="420" y="385" width="1" height="2" fill="#0032ff"/><rect x="429" y="389" width="2" height="2" fill="#00f0ff"/><rect x="395" y="386" width="2" height="5" fill="#0032ff"/><rect x="441" y="383" width="1" height="4" fill="#00ff50"/><rect x="390" y="383" width="1" height="3" fill="#00f0ff"/><rect x="410" y="388" width="1" height="2" fill="#00ff50"/><rect x="395" y="389" width="2" height="2" fill="#00f0ff"/><rect x="395" y="384" width="1" height="2" fill="#00f0ff"/><rect x="400" y="388" width="1" height="3" fill="#00f0ff"/><rect x="444" y="390" width="1" height="1" fill="#00f0ff"/><rect x="445" y="389" width="2" height="2" fill="#00ff50"/><rect x="419" y="389" width="1" height="2" fill="#00ff50"/><rect x="413" y="383" width="2" height="3" fill="#00f0ff"/><rect x="438" y="386" width="1" height="3" fill="#00f0ff"/><rect x="442" y="384" width="1" height="1" fill="#00f0ff"/><rect x="407" y="386" width="1" height="5" fill="#00f0ff"/><rect x="405" y="384" width="1" height="3" fill="#00f0ff"/><rect x="450" y="384" width="1" height="2" fill="#00f0ff"/><rect x="439" y="387" width="1" height="2" fill="#00f0ff"/><rect x="428" y="386" width="1" height="1" fill="#00f0ff"/><rect x="446" y="381" width="2" height="3" fill="#00f0ff"/><rect x="425" y="382" width="1" height="4" fill="#00f0ff"/><rect x="401" y="385" width="1" height="1" fill="#00f0ff"/><rect x="411" y="383" width="2" height="2" fill="#00f0ff"/><rect x="439" y="389" width="2" height="2" fill="#00f0ff"/><rect x="399" y="381" width="1" height="2" fill="#00f0ff"/><rect x="397" y="381" width="1" height="2" fill="#00f0ff"/><rect x="398" y="384" width="1" height="4" fill="#00f0ff"/><rect x="403" y="381" width="1" height="3" fill="#00ff50"/><rect x="441" y="390" width="1" height="1" fill="#00f0ff"/><rect x="418" y="383" width="1" height="1" fill="#00f0ff"/><rect x="411" y="385" width="1" height="2" fill="#00ff50"/><rect x="414" y="388" width="1" height="2" fill="#00f0ff"/><rect x="432" y="385" width="1" height="1" fill="#00f0ff"/><rect x="390" y="389" width="1" height="2" fill="#00ff50"/><rect x="448" y="388" width="1" height="2" fill="#00f0ff"/><rect x="451" y="387" width="1" height="4" fill="#00f0ff"/><rect x="417" y="384" width="1" height="2" fill="#00f0ff"/><rect x="432" y="388" width="1" height="1" fill="#00f0ff"/><rect x="420" y="388" width="1" height="3" fill="#00f0ff"/><rect x="436" y="389" width="1" height="2" fill="#00f0ff"/><rect x="393" y="388" width="1" height="3" fill="#00f0ff"/><rect x="445" y="389" width="1" height="1" fill="#00f0ff"/><rect x="429" y="387" width="1" height="2" fill="#00f0ff"/><rect x="433" y="387" width="1" height="2" fill="#f0ff00"/><rect x="398" y="389" width="1" height="2" fill="#00f0ff"/><rect x="388" y="389" width="1" height="1" fill="#00f0ff"/><rect x="439" y="387" width="2" height="4" fill="#00f0ff"/><rect x="426" y="388" width="1" height="2" fill="#00f0ff"/><rect x="437" y="390" width="1" height="1" fill="#00f0ff"/><rect x="406" y="390" width="1" height="1" fill="#00f0ff"/><rect x="417" y="387" width="1" height="1" fill="#00f0ff"/><rect x="434" y="390" width="2" height="1" fill="#00f0ff"/><rect x="390" y="388" width="2" height="3" fill="#00f0ff"/><rect x="388" y="387" width="1" height="3" fill="#00f0ff"/><rect x="448" y="387" width="1" height="2" fill="#00f0ff"/><rect x="414" y="390" width="2" height="1" fill="#f0ff00"/><rect x="397" y="389" width="1" height="2" fill="#00f0ff"/><rect x="397" y="388" width="1" height="3" fill="#00f0ff"/><rect x="426" y="388" width="1" height="3" fill="#f0ff00"/><rect x="395" y="389" width="1" height="2" fill="#00f0ff"/><rect x="450" y="389" width="2" height="2" fill="#f0ff00"/><rect x="447" y="388" width="1" height="1" fill="#00f0ff"/><rect x="448" y="389" width="2" height="1" fill="#00f0ff"/><rect x="445" y="390" width="1" height="1" fill="#00f0ff"/><rect x="397" y="387" width="1" height="4" fill="#00f0ff"/></g><g><rect x="500" y="389" width="1" height="2" fill="#00f0ff"/><rect x="500" y="387" width="2" height="2" fill="#00ff50"/><rect x="489" y="380" width="2" height="2" fill="#0032ff"/><rect x="503" y="384" width="1" height="3" fill="#00ff50"/><rect x="500" y="385" width="1" height="3" fill="#00ff50"/><rect x="489" y="385" width="2" height="2" fill="#00f0ff"/><rect x="495" y="380" width="1" height="5" fill="#00ff50"/><rect x="500" y="386" width="2" height="1" fill="#f0ff00"/><rect x="491" y="386" width="1" height="2" fill="#00f0ff"/><rect x="497" y="380" width="1" height="1" fill="#0032ff"/><rect x="493" y="384" width="2" height="2" fill="#f0ff00"/><rect x="499" y="385" width="2" height="2" fill="#00f0ff"/><rect x="501" y="388" width="1" height="3" fill="#0032ff"/><rect x="491" y="386" width="2" height="1" fill="#f0ff00"/><rect x="493" y="384" width="2" height="5" fill="#00f0ff"/><rect x="506" y="382" width="2" height="2" fill="#00ff50"/><rect x="499" y="384" width="1" height="2" fill="#0032ff"/><rect x="497" y="390" width="1" height="1" fill="#00ff50"/><rect x="504" y="390" width="2" height="1" fill="#00f0ff"/><rect x="494" y="382" width="1" height="5" fill="#00f0ff"/><rect x="505" y="388" width="1" height="3" fill="#00ff50"/><rect x="499" y="386" width="1" height="3" fill="#f0ff00"/><rect x="495" y="381" width="1" height="2" fill="#00ff50"/><rect x="506" y="385" width="1" height="1" fill="#00ff50"/><rect x="497" y="383" width="1" height="4" fill="#0032ff"/><rect x="502" y="386" width="1" height="3" fill="#00ff50"/><rect x="497" y="380" width="2" height="2" fill="#00ff50"/><rect x="507" y="382" width="1" height="2" fill="#00f0ff"/><rect x="497" y="386" width="2" height="2" fill="#0032ff"/><rect x="503" y="384" width="1" height="3" fill="#00f0ff"/><rect x="490" y="387" width="2" height="3" fill="#00f0ff"/><rect x="491" y="388" width="2" height="3" fill="#00ff50"/><rect x="496" y="383" width="1" height="1" fill="#00f0ff"/><rect x="505" y="381" width="2" height="5" fill="#00f0ff"/><rect x="506" y="380" width="1" height="1" fill="#00f0ff"/><rect x="507" y="390" width="1" height="1" fill="#00f0ff"/><rect x="497" y="390" width="2" height="1" fill="#0032ff"/><rect x="492" y="381" width="1" height="1" fill="#f0ff00"/><rect x="507" y="386" width="1" height="2" fill="#00f0ff"/><rect x="489" y="388" width="1" height="1" fill="#00ff50"/><rect x="300" y="379" width="2" height="2" fill="#f0ff00"/><rect x="299" y="379" width="1" height="4" fill="#00ff50"/><rect x="314" y="381" width="1" height="5" fill="#00f0ff"/><rect x="298" y="385" width="1" height="3" fill="#00f0ff"/><rect x="299" y="385" width="1" height="5" fill="#00f0ff"/><rect x="307" y="382" width="2" height="1" fill="#00f0ff"/><rect x="313" y="378" width="1" height="3" fill="#0032ff"/><rect x="301" y="388" width="1" height="3" fill="#00f0ff"/><rect x="307" y="381" width="1" height="2" fill="#00f0ff"/><rect x="306" y="380" width="1" height="2" fill="#00f0ff"/><rect x="311" y="377" width="1" height="3" fill="#00ff50"/><rect x="305" y="373" width="1" height="5" fill="#00ff50"/><rect x="293" y="372" width="1" height="2" fill="#00ff50"/><rect x="293" y="373" width="1" height="5" fill="#00ff50"/><rect x="306" y="382" width="1" height="5" fill="#00f0ff"/><rect x="297" y="378" width="1" height="2" fill="#0032ff"/><rect x="308" y="386" width="1" height="5" fill="#00f0ff"/><rect x="313" y="384" width="1" height="5" fill="#00f0ff"/><rect x="306" y="375" width="1" height="2" fill="#00f0ff"/><rect x="300" y="383" width="2" height="1" fill="#00f0ff"/><rect x="309" y="384" width="1" height="2" fill="#0032ff"/><rect x="301" y="374" width="1" height="3" fill="#0032ff"/><rect x="307" y="383" width="2" height="2" fill="#00f0ff"/><rect x="302" y="387" width="1" height="2" fill="#0032ff"/><rect x="305" y="384" width="1" height="2" fill="#00ff50"/><rect x="293" y="374" width="1" height="3" fill="#00f0ff"/><rect x="298" y="374" width="1" height="5" fill="#00f0ff"/><rect x="300" y="373" width="1" height="2" fill="#0032ff"/><rect x="314" y="382" width="1" height="5" fill="#00f0ff"/><rect x="292" y="374" width="1" height="5" fill="#0032ff"/><rect x="299" y="387" width="2" height="1" fill="#0032ff"/><rect x="304" y="385" width="2" height="2" fill="#00f0ff"/><rect x="307" y="372" width="1" height="2" fill="#0032ff"/><rect x="314" y="379" width="1" height="2" fill="#0032ff"/><rect x="302" y="383" width="1" height="3" fill="#f0ff00"/><rect x="298" y="377" width="1" height="3" fill="#00ff50"/><rect x="294" y="373" width="2" height="5" fill="#f0ff00"/><rect x="309" y="377" width="2" height="2" fill="#00f0ff"/><rect x="294" y="374" width="1" height="2" fill="#00f0ff"/><rect x="305" y="386" width="1" height="3" fill="#00f0ff"/><rect x="296" y="386" width="1" height="3" fill="#0032ff"/><rect x="309" y="375" width="1" height="5" fill="#00f0ff"/><rect x="300" y="380" width="1" height="4" fill="#00f0ff"/><rect x="315" y="378" width="2" height="2" fill="#00f0ff"/><rect x="297" y="379" width="1" height="2" fill="#00f0ff"/><rect x="271" y="381" width="1" height="4" fill="#00f0ff"/><rect x="263" y="382" width="1" height="2" fill="#00f0ff"/><rect x="267" y="376" width="1" height="3" fill="#00f0ff"/><rect x="264" y="389" width="1" height="2" fill="#00f0ff"/><rect x="271" y="382" width="1" height="2" fill="#00f0ff"/><rect x="260" y="381" width="1" height="4" fill="#00ff50"/><rect x="265" y="389" width="1" height="2" fill="#00f0ff"/><rect x="258" y="386" width="1" height="5" fill="#00f0ff"/><rect x="262" y="379" width="1" height="2" fill="#00f0ff"/><rect x="261" y="381" width="1" height="1" fill="#00ff50"/><rect x="263" y="386" width="1" height="5" fill="#0032ff"/><rect x="261" y="381" width="1" height="1" fill="#f0ff00"/><rect x="265" y="377" width="2" height="3" fill="#00f0ff"/><rect x="269" y="379" width="1" height="3" fill="#00f0ff"/><rect x="263" y="383" width="2" height="5" fill="#00ff50"/><rect x="267" y="388" width="1" height="2" fill="#00ff50"/><rect x="268" y="386" width="2" height="4" fill="#f0ff00"/><rect x="257" y="381" width="2" height="2" fill="#f0ff00"/><rect x="260" y="388" width="1" height="1" fill="#f0ff00"/><rect x="258" y="387" width="1" height="1" fill="#f0ff00"/><rect x="269" y="379" width="1" height="2" fill="#00f0ff"/><rect x="265" y="387" width="1" height="2" fill="#0032ff"/><rect x="266" y="380" width="1" height="2" fill="#00ff50"/><rect x="261" y="380" width="1" height="2" fill="#00f0ff"/><rect x="263" y="381" width="1" height="3" fill="#00f0ff"/><rect x="453" y="381" width="1" height="3" fill="#f0ff00"/><rect x="454" y="385" width="1" height="5" fill="#00f0ff"/><rect x="464" y="389" width="1" height="2" fill="#f0ff00"/><rect x="457" y="379" width="1" height="4" fill="#f0ff00"/><rect x="468" y="382" width="1" height="2" fill="#00f0ff"/><rect x="456" y="387" width="1" height="2" fill="#00f0ff"/><rect x="469" y="376" width="1" height="5" fill="#00f0ff"/><rect x="464" y="383" width="1" height="4" fill="#f0ff00"/><rect x="461" y="379" width="2" height="4" fill="#f0ff00"/><rect x="463" y="384" width="2" height="3" fill="#00f0ff"/><rect x="452" y="385" width="2" height="1" fill="#f0ff00"/><rect x="459" y="388" width="2" height="3" fill="#00f0ff"/><rect x="467" y="377" width="1" height="3" fill="#00f0ff"/><rect x="463" y="381" width="1" height="3" fill="#f0ff00"/><rect x="468" y="386" width="1" height="4" fill="#00f0ff"/><rect x="456" y="390" width="1" height="1" fill="#00f0ff"/><rect x="453" y="390" width="2" height="1" fill="#00f0ff"/><rect x="452" y="385" width="1" height="1" fill="#00f0ff"/><rect x="456" y="380" width="1" height="3" fill="#00f0ff"/><rect x="454" y="385" width="1" height="2" fill="#00f0ff"/></g>
</g>
<g fill="#000" shape-rendering="crispEdges"><rect x="271" y="388" width="1" height="3" /><rect x="271" y="132" width="1" height="4" /><rect x="286" y="388" width="1" height="3" /><rect x="286" y="132" width="1" height="4" /><rect x="302" y="388" width="1" height="3" /><rect x="302" y="132" width="1" height="4" /><rect x="317" y="388" width="1" height="3" /><rect x="317" y="132" width="1" height="4" /><rect x="331" y="382" width="2" height="9" /><rect x="331" y="132" width="2" height="9" /><rect x="348" y="388" width="1" height="3" /><rect x="348" y="132" width="1" height="4" /><rect x="363" y="388" width="1" height="3" /><rect x="363" y="132" width="1" height="4" /><rect x="378" y="388" width="1" height="3" /><rect x="378" y="132" width="1" height="4" /><rect x="394" y="388" width="1" height="3" /><rect x="394" y="132" width="1" height="4" /><rect x="408" y="382" width="2" height="9" /><rect x="408" y="132" width="2" height="9" /><rect x="424" y="388" width="1" height="3" /><rect x="424" y="132" width="1" height="4" /><rect x="440" y="388" width="1" height="3" /><rect x="440" y="132" width="1" height="4" /><rect x="455" y="388" width="1" height="3" /><rect x="455" y="132" width="1" height="4" /><rect x="471" y="388" width="1" height="3" /><rect x="471" y="132" width="1" height="4" /><rect x="485" y="382" width="2" height="9" /><rect x="485" y="132" width="2" height="9" /><rect x="501" y="388" width="1" height="3" /><rect x="501" y="132" width="1" height="4" /><rect x="517" y="388" width="1" height="3" /><rect x="517" y="132" width="1" height="4" /><rect x="532" y="388" width="1" height="3" /><rect x="532" y="132" width="1" height="4" /><rect x="547" y="388" width="1" height="3" /><rect x="547" y="132" width="1" height="4" /><rect x="561" y="382" width="2" height="9" /><rect x="561" y="132" width="2" height="9" /><rect x="578" y="388" width="1" height="3" /><rect x="578" y="132" width="1" height="4" /><rect x="593" y="388" width="1" height="3" /><rect x="593" y="132" width="1" height="4" /><rect x="608" y="388" width="1" height="3" /><rect x="608" y="132" width="1" height="4" /><rect x="624" y="388" width="1" height="3" /><rect x="624" y="132" width="1" height="4" /><rect x="638" y="382" width="2" height="9" /><rect x="638" y="132" width="2" height="9" /><rect x="257" y="376" width="4" height="1" /><rect x="644" y="376" width="3" height="1" /><rect x="257" y="358" width="4" height="1" /><rect x="644" y="358" width="3" height="1" /><rect x="257" y="341" width="4" height="1" /><rect x="644" y="341" width="3" height="1" /><rect x="257" y="323" width="4" height="1" /><rect x="644" y="323" width="3" height="1" /><rect x="257" y="305" width="9" height="2" /><rect x="638" y="305" width="9" height="2" /><rect x="257" y="288" width="4" height="1" /><rect x="644" y="288" width="3" height="1" /><rect x="257" y="270" width="4" height="1" /><rect x="644" y="270" width="3" height="1" /><rect x="257" y="253" width="4" height="1" /><rect x="644" y="253" width="3" height="1" /><rect x="257" y="235" width="4" height="1" /><rect x="644" y="235" width="3" height="1" /><rect x="257" y="217" width="9" height="2" /><rect x="638" y="217" width="9" height="2" /><rect x="257" y="200" width="4" height="1" /><rect x="644" y="200" width="3" height="1" /><rect x="257" y="182" width="4" height="1" /><rect x="644" y="182" width="3" height="1" /><rect x="257" y="165" width="4" height="1" /><rect x="644" y="165" width="3" height="1" /><rect x="257" y="147" width="4" height="1" /><rect x="644" y="147" width="3" height="1" /></g>
<rect x="256" y="131" width="392" height="261" fill="none" stroke="#000" stroke-width="2" shape-rendering="crispEdges"/>
<g shape-rendering="crispEdges"><rect x="664" y="195" width="13" height="21" fill="#ff7878"/><rect x="664" y="216" width="13" height="21" fill="#ff1414"/><rect x="664" y="237" width="13" height="20" fill="#ff6400"/><rect x="664" y="257" width="13" height="10" fill="#ffa000"/><rect x="664" y="267" width="13" height="6" fill="#ffc800"/><rect x="664" y="273" width="13" height="5" fill="#f0ff00"/><rect x="664" y="278" width="13" height="5" fill="#00ff50"/><rect x="664" y="283" width="13" height="5" fill="#00f0ff"/><rect x="664" y="288" width="13" height="10" fill="#0032ff"/><rect x="664" y="298" width="13" height="21" fill="#0000b4"/><rect x="664" y="319" width="13" height="21" fill="#7800b4"/><rect x="664" y="340" width="13" height="20" fill="#b400b4"/><rect x="664" y="360" width="13" height="32" fill="#f000b4"/></g>
<g fill="#000" shape-rendering="crispEdges"><rect x="664" y="195" width="13" height="2"/><rect x="664" y="216" width="13" height="2"/><rect x="664" y="237" width="13" height="2"/><rect x="664" y="257" width="13" height="2"/><rect x="664" y="267" width="13" height="2"/><rect x="664" y="273" width="13" height="2"/><rect x="664" y="278" width="13" height="2"/><rect x="664" y="283" width="13" height="2"/><rect x="664" y="288" width="13" height="2"/><rect x="664" y="298" width="13" height="2"/><rect x="664" y="319" width="13" height="2"/><rect x="664" y="340" width="13" height="2"/><rect x="664" y="360" width="13" height="2"/></g>
<path d="M664.3 195.5 L671.4 167.4 L677.7 195.5 Z" fill="#ffb4b4" stroke="#000" stroke-width="2" stroke-linejoin="bevel" shape-rendering="crispEdges"/>
<path d="M664 194 V392 H677 V194" fill="none" stroke="#000" stroke-width="2" shape-rendering="crispEdges"/>

<g font-family="'Liberation Sans', sans-serif" fill="#000" style="opacity:0.999">
<text id="title" y="85" font-size="29.3" class="thin"><tspan x="301.8" textLength="110" lengthAdjust="spacingAndGlyphs">H2O-g</tspan> <tspan x="424" textLength="89.5" lengthAdjust="spacingAndGlyphs">Mixing</tspan> <tspan x="529" textLength="74.5" lengthAdjust="spacingAndGlyphs">Ratio</tspan></text>
<text id="zunit" x="208" y="108.3" font-size="17.3" text-anchor="middle" textLength="89" lengthAdjust="spacingAndGlyphs">(×1E4 m)</text>
<text id="time" x="654.8" y="142.6" font-size="15.4" textLength="92" lengthAdjust="spacingAndGlyphs" class="thin2">t=94800 s</text>
<text id="xunit" x="611" y="438.3" font-size="17.3" text-anchor="middle" textLength="90" lengthAdjust="spacingAndGlyphs">(×1E5 m)</text>
<text id="xlab" x="452.5" y="470" font-size="24" text-anchor="middle" class="thinb" textLength="162" lengthAdjust="spacingAndGlyphs">X-coordinate</text>
<text id="zlab" transform="translate(218 261.5) rotate(-90)" font-size="24" text-anchor="middle" class="thinb" textLength="160" lengthAdjust="spacingAndGlyphs">Z-coordinate</text>
<g font-size="18.2" text-anchor="middle">
<text x="331.8" y="414.6" textLength="11.5" lengthAdjust="spacingAndGlyphs">1</text><text x="409" y="414.6" textLength="11.5" lengthAdjust="spacingAndGlyphs">2</text><text x="485.7" y="414.6" textLength="11.5" lengthAdjust="spacingAndGlyphs">3</text><text x="562.2" y="414.6" textLength="11.5" lengthAdjust="spacingAndGlyphs">4</text><text x="638.6" y="414.6" textLength="11.5" lengthAdjust="spacingAndGlyphs">5</text>
<text x="240" y="312" textLength="11.5" lengthAdjust="spacingAndGlyphs">1</text><text x="240.2" y="224.2" textLength="11.5" lengthAdjust="spacingAndGlyphs">2</text>
</g>
<g font-size="14.5">
<text x="686.5" y="242.6" textLength="46" lengthAdjust="spacingAndGlyphs">0.004</text>
<text x="686.5" y="278.3" textLength="43" lengthAdjust="spacingAndGlyphs">5e-4</text>
<text x="686.5" y="294.5" textLength="56" lengthAdjust="spacingAndGlyphs">-0.001</text>
<text x="686.5" y="345.8" textLength="58" lengthAdjust="spacingAndGlyphs">-0.006</text>
</g>
</g>

</svg>
</body></html>
